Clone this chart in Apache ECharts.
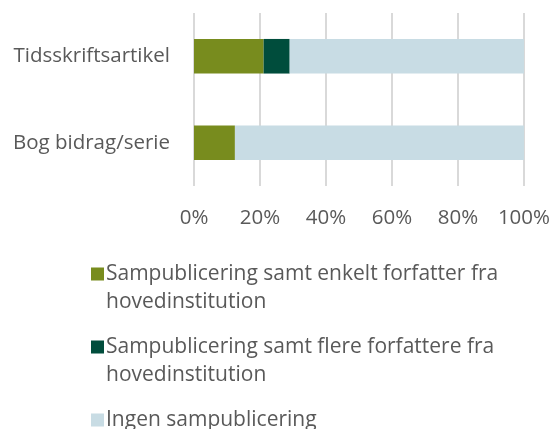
<!DOCTYPE html>
<html><head><meta charset="utf-8">
<script src="https://cdn.jsdelivr.net/npm/echarts@6/dist/echarts.min.js"></script>
<style>html,body{margin:0;padding:0;background:#fff}#c{width:553px;height:429px}</style>
</head><body><div id="c"></div>
<script>
const categories = ['Bog bidrag/serie', 'Tidsskriftsartikel'];
const seriesNames = [
  'Sampublicering samt enkelt forfatter fra hovedinstitution',
  'Sampublicering samt flere forfattere fra hovedinstitution',
  'Ingen sampublicering'
];
const enkelt = [12.4, 21.1];
const flere = [0, 7.9];
const ingen = [87.6, 71.0];
const xTicks = [0, 20, 40, 60, 80, 100];
const colors = ['#788c1e', '#004d3c', '#c8dce4'];
const legendLines = {
  'Sampublicering samt enkelt forfatter fra hovedinstitution': 'Sampublicering samt enkelt forfatter fra\nhovedinstitution',
  'Sampublicering samt flere forfattere fra hovedinstitution': 'Sampublicering samt flere forfattere fra\nhovedinstitution',
  'Ingen sampublicering': 'Ingen sampublicering\n '
};
const FONT = 'Open Sans';
const iconTop = 'path://M0,0h13v13h-13z M0,41h0.01v0.01h-0.01z';
const chart = echarts.init(document.getElementById('c'), null, {renderer: 'canvas'});
const values = [enkelt, flere, ingen];
chart.setOption({
  animation: false,
  color: colors,
  textStyle: {fontFamily: FONT},
  grid: {left: 194, right: 29, top: 13, bottom: 243, containLabel: false},
  xAxis: {
    type: 'value', min: 0, max: 100, interval: 20,
    axisLine: {show: false}, axisTick: {show: false},
    splitLine: {lineStyle: {color: '#d9d9d9', width: 2}},
    axisLabel: {formatter: v => xTicks.includes(v) ? v + '%' : '', color: '#595959', fontSize: 20.5, fontFamily: FONT, margin: 22}
  },
  yAxis: {
    type: 'category', data: categories,
    axisLine: {show: false}, axisTick: {show: false},
    axisLabel: {color: '#595959', fontSize: 20.5, fontFamily: FONT, margin: 24}
  },
  legend: {
    orient: 'vertical', left: 86, top: 255, height: 400,
    itemWidth: 13, itemHeight: 41, itemGap: 17,
    icon: iconTop,
    data: seriesNames.map(n => ({name: n, icon: iconTop})),
    formatter: n => legendLines[n],
    textStyle: {color: '#595959', fontSize: 21, fontFamily: FONT, lineHeight: 28, padding: [0,0,0,-3]},
    selectedMode: false
  },
  series: seriesNames.map((n, i) => ({
    name: n, type: 'bar', stack: 'total', data: values[i],
    barWidth: '40%', itemStyle: {color: colors[i]}
  }))
});
</script></body></html>
